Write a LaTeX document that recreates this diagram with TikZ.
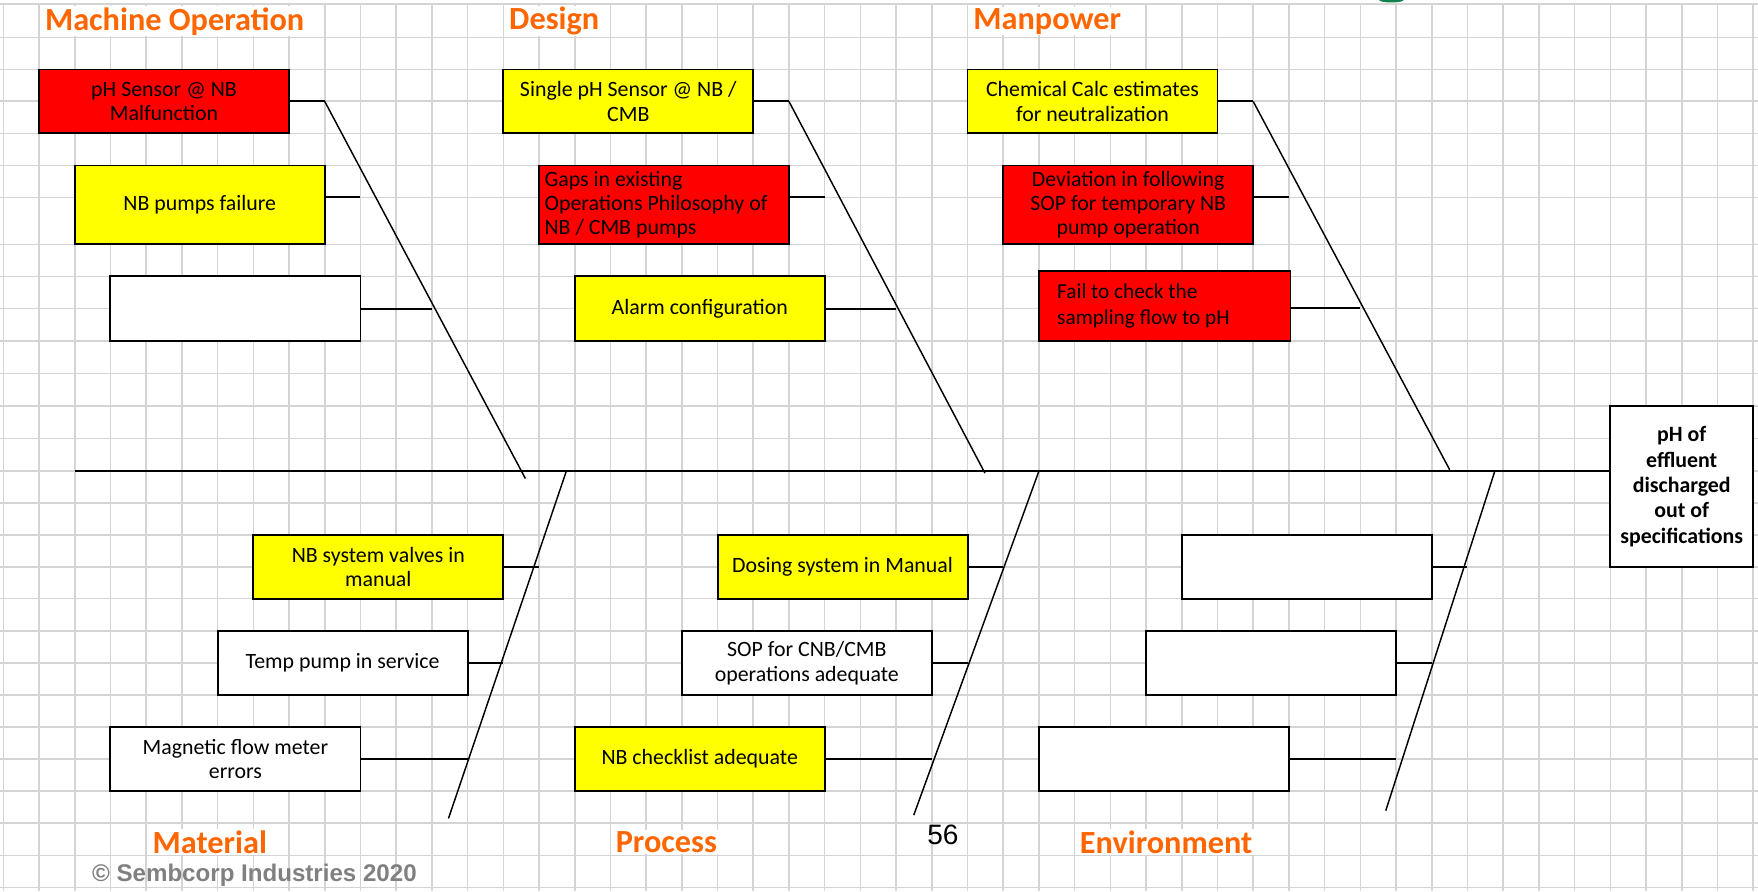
\documentclass[tikz,border=0pt]{standalone}
\usepackage{fontspec}
\setmainfont{Carlito}
\newfontfamily\arialf{Liberation Sans}
\definecolor{gridc}{RGB}{212,212,212}
\definecolor{orng}{RGB}{255,102,0}
\definecolor{redf}{RGB}{255,0,0}
\definecolor{yelf}{RGB}{255,255,0}
\definecolor{cgray}{RGB}{128,128,128}
\definecolor{grn}{RGB}{20,130,80}
\newcommand\bxf{\fontsize{19.5}{21.6}\selectfont}
\newcommand\ttf{\fontsize{28.8}{30}\selectfont\bfseries}
\tikzset{
  gl/.style={gridc, line width=1.4},
  cbox/.style={draw=black, line width=1.7, inner sep=0pt, minimum width=223, minimum height=57, align=center, font=\bxf},
  redbox/.style={cbox, fill=redf},
  yelbox/.style={cbox, fill=yelf},
  whbox/.style={cbox, fill=white},
  conn/.style={black, line width=1.8},
  bone/.style={black, line width=1.3},
  spine/.style={black, line width=1.5},
  ttl/.style={text=orng, font=\ttf, anchor=west, fill=white, inner xsep=2pt, inner ysep=1pt},
}
\begin{document}
\begin{tikzpicture}[x=1pt,y=-1pt]
\useasboundingbox (0,0) rectangle (1568,795);
\fill[white] (0,0) rectangle (1568,795);
% grid
\foreach \k in {0,...,49} \draw[gl] ({3+31.85*\k},3.8) -- ({3+31.85*\k},795);
\foreach \y in {3.8,33.4,62,90.3,119,147.6,176,218,246.5,275,304,333,362,391,420,448.5,477,505.5,534,563,591.5,620,648.5,677,705.5,734,763,791.5}
  \draw[gl] (0,\y) -- (1568,\y);
\fill[grn] (1241,0) ellipse (11 and 2.2);

% titles
\node[ttl] (tmach) at (38,19) {Machine Operation};
\node[ttl] (tdes) at (452,19) {Design};
\node[ttl] (tman) at (866,19) {Manpower};
\node[ttl] (tmat) at (134,751) {Material};
\node[ttl] (tpro) at (547,751) {Process};
\node[ttl] (tenv) at (961,751) {Environment};
\node[font=\arialf\fontsize{25}{26}\selectfont, inner sep=0pt] (pg) at (841,745) {56};
\node[font=\arialf\fontsize{21.5}{22}\selectfont\bfseries, text=cgray, anchor=west, inner sep=0pt] (copy) at (82,781) {© Sembcorp Industries 2020};

% top boxes
\node[redbox] (m1) at (146.3,90.5) {pH Sensor @ NB\\Malfunction};
\node[yelbox, minimum height=70.4] (m2) at (178.2,182.8) {NB pumps failure};
\node[whbox, minimum height=57.5] (m3) at (210,275.3) {};
\node[yelbox] (d1) at (560.4,90.5) {Single pH Sensor @ NB /\\CMB};
\node[redbox, minimum height=70.4, text width=213, inner xsep=5, align=flush left] (d2) at (592.2,182.8) {Gaps in existing\\Operations Philosophy of\\NB / CMB pumps};
\node[yelbox, minimum height=57.5] (d3) at (624.1,275.3) {Alarm configuration};
\node[yelbox] (p1) at (974.4,90.5) {Chemical Calc estimates\\for neutralization};
\node[redbox, minimum height=70.4] (p2) at (1006.3,182.8) {Deviation in following\\SOP for temporary NB\\pump operation};
\node[redbox, minimum height=63, text width=191.7, inner xsep=16.35, align=flush left, font=\fontsize{19}{23.6}\selectfont] (p3) at (1038.8,273) {Fail to check the\\sampling flow to pH};

% bottom boxes
\node[yelbox] (a1) at (337.4,505.5) {NB system valves in\\manual};
\node[whbox] (a2) at (305.6,591.5) {Temp pump in service};
\node[whbox] (a3) at (210,677) {Magnetic flow meter\\errors};
\node[yelbox] (b1) at (751.5,505.5) {Dosing system in Manual};
\node[whbox] (b2) at (719.6,591.5) {SOP for CNB/CMB\\operations adequate};
\node[yelbox] (b3) at (624.1,677) {NB checklist adequate};
\node[whbox] (e1) at (1165.5,505.5) {};
\node[whbox] (e2) at (1133.7,591.5) {};
\node[whbox] (e3) at (1038.1,677) {};

% effect
\node[cbox, fill=white, minimum width=127.4, minimum height=144, font=\fontsize{19.5}{22.7}\selectfont\bfseries] (eff) at (1499.95,434) {pH of\\effluent\\discharged\\out of\\specifications};

% spine
\coordinate (sp) at (66.7,420);
\draw[spine] (sp) -- (sp -| eff.west);

% Machine Operation bone
\coordinate (mt) at (289.65,90.5);
\coordinate (mb) at (468.6,426.8);
\coordinate (m2c) at (321.5,176);
\coordinate (m3c) at (385.2,275.3);
\draw[conn] (m1.east) -- (mt);
\draw[bone] (mt) -- (mb);
\draw[conn] (m2c -| m2.east) -- (m2c);
\draw[conn] (m3.east) -- (m3c);

% Design bone
\coordinate (dt) at (703.7,90.5);
\coordinate (db) at (878.5,422);
\coordinate (d2c) at (735.55,176);
\coordinate (d3c) at (799.25,275.3);
\draw[conn] (d1.east) -- (dt);
\draw[bone] (dt) -- (db);
\draw[conn] (d2c -| d2.east) -- (d2c);
\draw[conn] (d3.east) -- (d3c);

% Manpower bone
\coordinate (pt) at (1117.75,90.5);
\coordinate (pb) at (1293,419);
\coordinate (p2c) at (1149.6,176);
\coordinate (p3c) at (1213.3,275);
\draw[conn] (p1.east) -- (pt);
\draw[bone] (pt) -- (pb);
\draw[conn] (p2c -| p2.east) -- (p2c);
\draw[conn] (p3c -| p3.east) -- (p3c);

% Material bone
\coordinate (at) at (505.2,420);
\coordinate (ab) at (400,730);
\coordinate (a1c) at (480.6,505.5);
\coordinate (a2c) at (448.9,591.5);
\coordinate (a3c) at (417.05,677);
\draw[bone] (at) -- (ab);
\draw[conn] (a1.east) -- (a1c);
\draw[conn] (a2.east) -- (a2c);
\draw[conn] (a3.east) -- (a3c);

% Process bone
\coordinate (bt) at (926.7,420);
\coordinate (bb) at (815,727);
\coordinate (b1c) at (894.8,505.5);
\coordinate (b2c) at (862.95,591.5);
\coordinate (b3c) at (831.1,677);
\draw[bone] (bt) -- (bb);
\draw[conn] (b1.east) -- (b1c);
\draw[conn] (b2.east) -- (b2c);
\draw[conn] (b3.east) -- (b3c);

% Environment bone
\coordinate (et) at (1333,421);
\coordinate (eb) at (1236,723);
\coordinate (e1c) at (1308.85,505.5);
\coordinate (e2c) at (1277,591.5);
\coordinate (e3c) at (1245.15,677);
\draw[bone] (et) -- (eb);
\draw[conn] (e1.east) -- (e1c);
\draw[conn] (e2.east) -- (e2c);
\draw[conn] (e3.east) -- (e3c);
\end{tikzpicture}
\end{document}
